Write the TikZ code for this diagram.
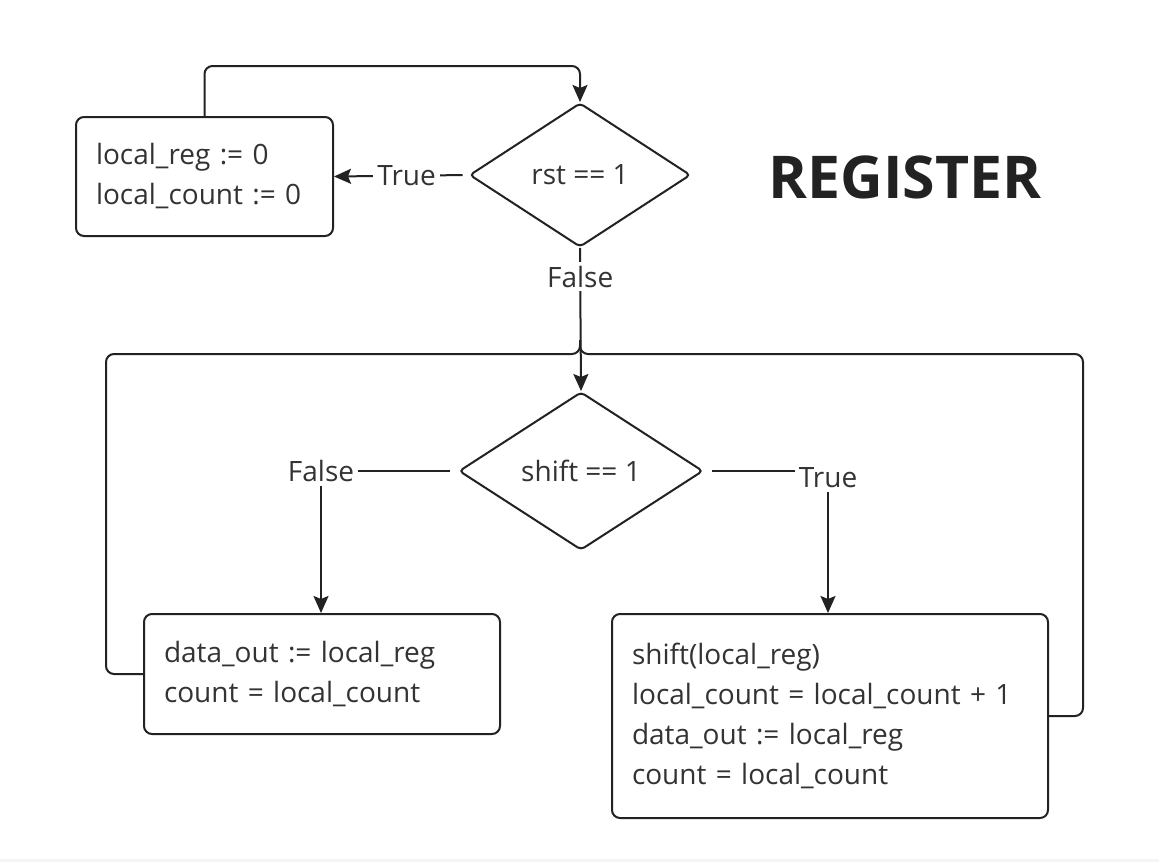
\documentclass[tikz,border=0pt]{standalone}
\usepackage{fontspec}
\setmainfont{Open Sans}
\usetikzlibrary{shapes.geometric,arrows.meta}
\definecolor{ink}{HTML}{222222}
\definecolor{txt}{HTML}{333333}
\begin{document}
\begin{tikzpicture}[x=1pt,y=-1pt,
  line width=2pt,
  box/.style={draw=ink, line width=2pt, rounded corners=8pt, align=left,
    inner xsep=20pt, inner ysep=0pt, anchor=north west,
    font=\fontsize{28}{40}\selectfont, text=txt},
  dec/.style={draw=ink, line width=2pt, diamond, inner sep=0pt,
    rounded corners=4pt, font=\fontsize{28}{32}\selectfont, text=txt},
  lab/.style={fill=white, font=\fontsize{28}{32}\selectfont, text=txt,
    inner xsep=4pt, inner ysep=4pt},
  conn/.style={draw=ink, line width=2pt},
  arr/.style={conn, -{Stealth[length=17pt,width=15pt,inset=3pt]}}
]
\useasboundingbox (0,0) rectangle (1159,862);
\fill[white] (0,0) rectangle (1159,862);
\fill[gray!8] (0,859) rectangle (1159,862);

% nodes
\node[box, minimum width=257pt, minimum height=119pt, text width=217pt] (A) at (75,116)
  {local\_reg := 0\\local\_count := 0};
\node[dec, minimum width=221pt, minimum height=144pt] (rst) at (580,175) {rst == 1};
\node[dec, minimum width=244pt, minimum height=158pt] (sh) at (581,471) {shift == 1};
\node[box, minimum width=356pt, minimum height=120pt, text width=316pt] (B) at (143,613)
  {data\_out := local\_reg\\count = local\_count};
\node[box, minimum width=436pt, minimum height=204pt, text width=396pt] (C) at (611,613)
  {shift(local\_reg)\\local\_count = local\_count + 1\\data\_out := local\_reg\\count = local\_count};
\node[font=\bfseries\fontsize{59}{66}\selectfont, text=ink] (title) at (905,177) {REGISTER};

% helper coordinates
\coordinate (top) at (580,66);
\coordinate (j) at (580,354);
\coordinate (jl) at (106,354);
\coordinate (jr) at (1083,354);
\coordinate (fl) at (321,471);
\coordinate (tr) at (828,471);

% connectors
\draw[arr, rounded corners=8pt] (A.north) |- (top) -- (rst.north);
\draw[arr, shorten <=6pt] (rst.west) -- node[lab, pos=0.46] (lt) {True} (A.east);
\draw[arr] (rst.south) -- node[lab, pos=0.2] (lfa) {False} (sh.north);
\draw[conn, rounded corners=8pt] (B.west) -| (jl) -- (j) -- ([yshift=14pt]j);
\draw[conn, rounded corners=8pt] (C.east) -| (jr) -- (j) -- ([yshift=14pt]j);
\draw[arr, shorten <=8pt] (sh.west) -- (fl) -- (fl |- B.north);
\draw[arr, shorten <=8pt] (sh.east) -- (tr) -- (tr |- C.north);
\node[lab] (lf) at (fl) {False};
\node[lab] (ltr) at (828,478) {True};
\end{tikzpicture}
\end{document}
